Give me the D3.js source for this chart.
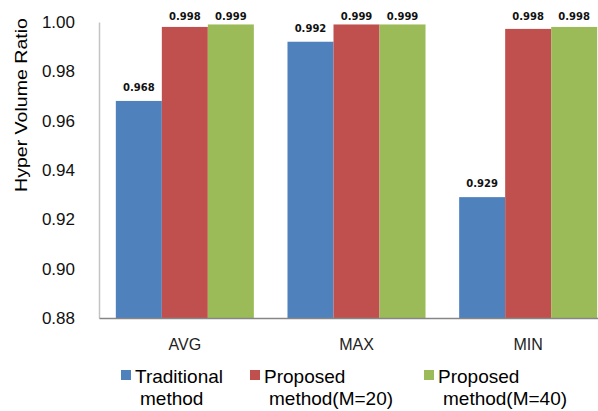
<!DOCTYPE html>
<html>
<head>
<meta charset="utf-8">
<script src="https://cdn.jsdelivr.net/npm/d3@7"></script>
<style>
  html, body { margin: 0; padding: 0; background: #fff; }
  svg { display: block; }
</style>
</head>
<body>
<svg id="chart" width="598" height="411"></svg>
<script>
// ---- data ----
const categories = ["AVG", "MAX", "MIN"];
const seriesNames = ["Traditional method", "Proposed method(M=20)", "Proposed method(M=40)"];
const traditional = [0.968, 0.992, 0.929];
const proposed20 = [0.998, 0.999, 0.9972];
const proposed40 = [0.999, 0.999, 0.998];
const labelsTraditional = ["0.968", "0.992", "0.929"];
const labels20 = ["0.998", "0.999", "0.998"];
const labels40 = ["0.999", "0.999", "0.998"];
const yTicks = [0.88, 0.90, 0.92, 0.94, 0.96, 0.98, 1.00];
const legendLines = [["Traditional", "method"], ["Proposed", "method(M=20)"], ["Proposed", "method(M=40)"]];

const seriesValues = [traditional, proposed20, proposed40];
const seriesLabels = [labelsTraditional, labels20, labels40];
const colors = ["#4F81BD", "#C0504D", "#9BBB59"];

// ---- layout ----
const svg = d3.select("#chart");
const plotLeft = 99, plotRight = 614, plotTop = 22, plotBottom = 318;

const y = d3.scaleLinear().domain([0.88, 1.00]).range([plotBottom, plotTop]);
const x0 = d3.scaleBand().domain(categories).range([plotLeft, plotRight])
  .paddingInner(0.196).paddingOuter(0.098);
const x1 = d3.scaleBand().domain(d3.range(seriesNames.length)).range([0, x0.bandwidth()]);

// y axis
const yAxis = svg.append("g").attr("transform", `translate(${plotLeft},0)`)
  .call(d3.axisLeft(y).tickValues(yTicks).tickFormat(d3.format(".2f")).tickSize(0).tickPadding(24));
yAxis.select(".domain").attr("stroke", "#c4c4c4").attr("stroke-width", 1.5);
yAxis.selectAll("text").attr("font-family", "'Liberation Sans', Arial, sans-serif")
  .attr("font-size", 17).attr("fill", "#111");

// bars
const groups = svg.append("g").selectAll("g").data(categories).join("g")
  .attr("transform", d => `translate(${x0(d)},0)`);

seriesValues.forEach((vals, si) => {
  groups.append("rect")
    .attr("x", () => x1(si))
    .attr("width", x1.bandwidth())
    .attr("y", (d, i) => y(vals[i]))
    .attr("height", (d, i) => plotBottom - y(vals[i]))
    .attr("fill", colors[si]);
  groups.append("text")
    .attr("x", () => x1(si) + x1.bandwidth() / 2)
    .attr("y", (d, i) => Math.max(y(vals[i]) - 10, 19.5))
    .attr("text-anchor", "middle")
    .attr("font-family", "'DejaVu Sans', Verdana, sans-serif")
    .attr("font-weight", "bold")
    .attr("font-size", 10)
    .attr("fill", "#111")
    .text((d, i) => seriesLabels[si][i]);
});

// x axis
const xAxis = svg.append("g").attr("transform", `translate(0,${plotBottom})`)
  .call(d3.axisBottom(x0).tickSize(0).tickSizeOuter(0).tickPadding(21));
xAxis.select(".domain").attr("stroke", "#868686").attr("stroke-width", 1.5);
xAxis.selectAll("text").attr("font-family", "'Liberation Sans', Arial, sans-serif")
  .attr("font-size", 16).attr("fill", "#222");

// y title
svg.append("text")
  .attr("transform", "translate(27,105) rotate(-90)")
  .attr("text-anchor", "middle")
  .attr("font-family", "'Liberation Sans', Arial, sans-serif")
  .attr("font-size", 16)
  .attr("textLength", 174)
  .attr("lengthAdjust", "spacingAndGlyphs")
  .attr("fill", "#000")
  .text("Hyper Volume Ratio");

// legend
const legendX = [121, 250, 424];
const legend = svg.append("g").selectAll("g").data(seriesNames).join("g")
  .attr("transform", (d, i) => `translate(${legendX[i]},370)`);
legend.append("rect").attr("width", 10).attr("height", 10).attr("fill", (d, i) => colors[i]);
legend.each(function(d, i) {
  const g = d3.select(this);
  const t = g.append("text")
    .attr("font-family", "'Liberation Sans', Arial, sans-serif")
    .attr("font-size", 19).attr("fill", "#000");
  t.append("tspan").attr("x", 14).attr("y", 13).text(legendLines[i][0]);
  t.append("tspan").attr("x", 19).attr("y", 35).text(legendLines[i][1]);
});
</script>
</body>
</html>
